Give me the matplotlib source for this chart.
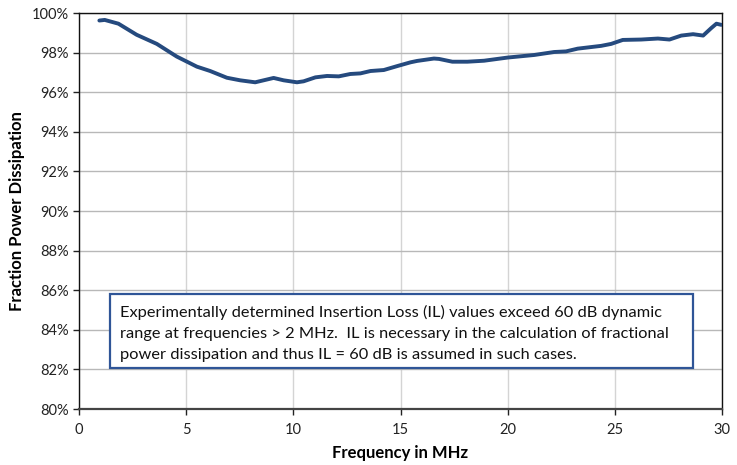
import matplotlib
matplotlib.use("Agg")
import matplotlib.pyplot as plt
from matplotlib.patches import Rectangle
from matplotlib.ticker import FuncFormatter

plt.rcParams['font.family'] = ['Lato', 'DejaVu Sans']

freq_mhz = [0.95, 1.2, 1.84, 2.69, 3.63, 4.56, 5.5, 6.12, 6.9, 7.52, 8.22, 9.08, 9.55,
            10.17, 10.48, 11.03, 11.57, 12.12, 12.66, 13.13, 13.6, 14.22, 14.85, 15.47,
            15.78, 16.56, 16.8, 17.42, 18.12, 18.9, 20.0, 21.24, 22.17, 22.72, 23.27,
            24.36, 24.83, 25.37, 26.23, 27.01, 27.55, 28.1, 28.65, 29.12, 29.5, 29.74, 29.97]
fraction_pct = [99.62, 99.65, 99.46, 98.9, 98.44, 97.8, 97.29, 97.07, 96.73, 96.6, 96.5,
                96.72, 96.6, 96.5, 96.55, 96.75, 96.82, 96.8, 96.92, 96.95, 97.07, 97.12,
                97.32, 97.51, 97.58, 97.7, 97.68, 97.54, 97.54, 97.59, 97.75, 97.88, 98.03,
                98.06, 98.2, 98.34, 98.44, 98.64, 98.66, 98.71, 98.66, 98.86, 98.93, 98.86,
                99.24, 99.46, 99.4]
x_ticks = [0, 5, 10, 15, 20, 25, 30]
y_ticks = [80, 82, 84, 86, 88, 90, 92, 94, 96, 98, 100]
note = ("Experimentally determined Insertion Loss (IL) values exceed 60 dB dynamic\n"
        "range at frequencies > 2 MHz.  IL is necessary in the calculation of fractional\n"
        "power dissipation and thus IL = 60 dB is assumed in such cases.")

fig = plt.figure(figsize=(7.37, 4.65), dpi=100)
ax = fig.add_axes([79/737, 1 - 409/465, 643/737, 396/465])

ax.plot(freq_mhz, fraction_pct, color='#254a7e', lw=2.8, solid_capstyle='round',
        solid_joinstyle='round', zorder=3)

ax.set_xlim(0, 30)
ax.set_ylim(80, 100)
ax.set_xticks(x_ticks)
ax.set_yticks(y_ticks)
ax.yaxis.set_major_formatter(FuncFormatter(lambda v, p: f"{v:.0f}%"))
ax.grid(axis='y', color='#b8b8b8', lw=1.0)
ax.grid(axis='x', color='#d4d4d4', lw=1.0)
ax.set_axisbelow(True)
for s in ax.spines.values():
    s.set_color('#111111')
    s.set_linewidth(1.0)
ax.spines['bottom'].set_color('#444444')
ax.spines['bottom'].set_linewidth(1.6)
ax.tick_params(axis='both', direction='out', length=4, width=1, color='#222222',
               labelsize=10.5, labelcolor='#222222')
ax.tick_params(axis='x', pad=6)
ax.set_xlabel('Frequency in MHz', fontsize=12, fontweight='bold', labelpad=6)
ax.set_ylabel('Fraction Power Dissipation', fontsize=12, fontweight='bold', labelpad=5)

rect = Rectangle((0.048, 0.1035), 0.907, 0.187, transform=ax.transAxes,
                 facecolor='white', edgecolor='#2f5597', lw=1.6, zorder=4)
ax.add_patch(rect)
ax.text(0.063, 0.19, note, transform=ax.transAxes, ha='left', va='center',
        fontsize=11.8, color='#111111', linespacing=1.62, zorder=5)

fig.savefig('out.png', dpi=100)
